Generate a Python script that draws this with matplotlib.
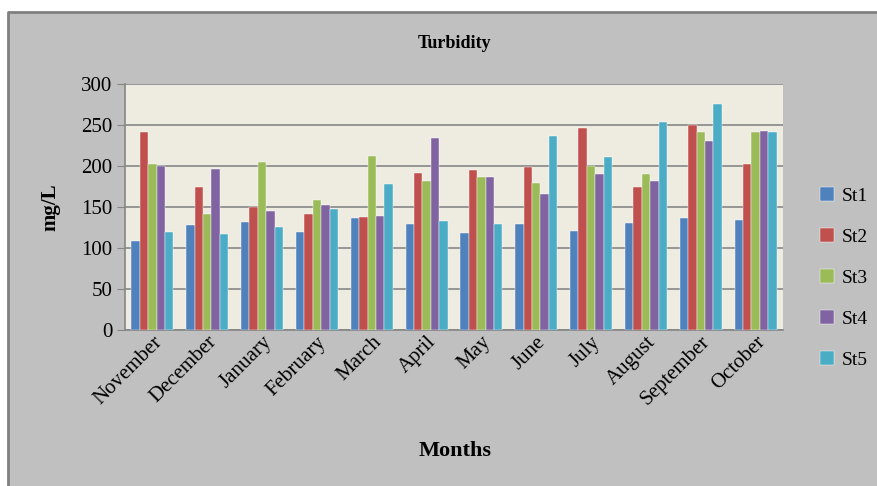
import matplotlib
matplotlib.use("Agg")
import matplotlib.pyplot as plt
import numpy as np
from matplotlib.lines import Line2D
from matplotlib.patches import Rectangle

months = ["November", "December", "January", "February", "March", "April",
          "May", "June", "July", "August", "September", "October"]
st1 = [108, 128, 132, 120, 137, 129, 118, 129, 121, 130, 137, 134]
st2 = [242, 174, 150, 142, 138, 191, 195, 199, 246, 174, 250, 203]
st3 = [203, 141, 205, 159, 212, 182, 186, 179, 200, 190, 242, 241]
st4 = [200, 196, 145, 152, 139, 234, 187, 166, 190, 182, 230, 243]
st5 = [120, 117, 125, 148, 178, 133, 129, 236, 211, 254, 275, 242]
stations = ["St1", "St2", "St3", "St4", "St5"]
colors = ["#4F81BD", "#C0504D", "#9BBB59", "#8064A2", "#4BACC6"]

plt.rcParams["font.family"] = ["Liberation Serif", "DejaVu Serif"]

fig = plt.figure(figsize=(8.78, 4.86), dpi=100, facecolor="white")
# grey chart frame with a border on its top and left sides
fx, fy = 8 / 878, 1 - 12 / 486
fig.patches.append(Rectangle((fx, 0), 1 - fx, fy, transform=fig.transFigure,
                             facecolor="#C0C0C0", edgecolor="none", zorder=-2))
fig.lines.append(Line2D([fx, fx, 1], [0, fy, fy], transform=fig.transFigure,
                        color="#808080", linewidth=2.0, zorder=-1))

ax = fig.add_axes([125 / 878, 1 - 330 / 486, 658 / 878, 246 / 486])
ax.set_facecolor("#EEECE1")

x = np.arange(len(months))
width = 0.153
for i, (name, vals) in enumerate(zip(stations, [st1, st2, st3, st4, st5])):
    ax.bar(x + (i - 2) * width, vals, width, color=colors[i], label=name,
           edgecolor="white", linewidth=0.3, zorder=3)

ax.set_xlim(-0.5, len(months) - 0.5)
ax.set_ylim(0, 300)
ax.set_yticks(range(0, 301, 50))
ax.yaxis.grid(True, color="#868686", linewidth=1.2, zorder=0)
ax.set_axisbelow(True)
for side in ["top", "right"]:
    ax.spines[side].set_visible(False)
ax.spines["left"].set_color("#868686")
ax.spines["bottom"].set_color("#868686")
ax.spines["left"].set_linewidth(1.2)
ax.spines["bottom"].set_linewidth(1.2)
ax.tick_params(axis="y", length=6, color="#868686", labelsize=15, pad=3)
ax.tick_params(axis="x", length=0, labelsize=15, pad=2)
ax.set_xticks(x)
ax.set_xticklabels(months, rotation=45, ha="right", rotation_mode="anchor")

fig.text(455 / 878, 1 - 43 / 486, "Turbidity", ha="center", va="center",
         fontsize=13, fontweight="bold")
fig.text(50 / 878, 1 - 207 / 486, "mg/L", ha="center", va="center", rotation=90,
         fontsize=15, fontweight="bold")
fig.text(455 / 878, 1 - 451 / 486, "Months", ha="center", va="center",
         fontsize=16, fontweight="bold")

handles, labels = ax.get_legend_handles_labels()
fig.legend(handles, labels, loc="center left", bbox_to_anchor=(803 / 878, 1 - 278 / 486),
           frameon=False, fontsize=14, handlelength=0.7, handleheight=0.7,
           handletextpad=0.4, labelspacing=1.2)

fig.savefig("out.png", dpi=100)
